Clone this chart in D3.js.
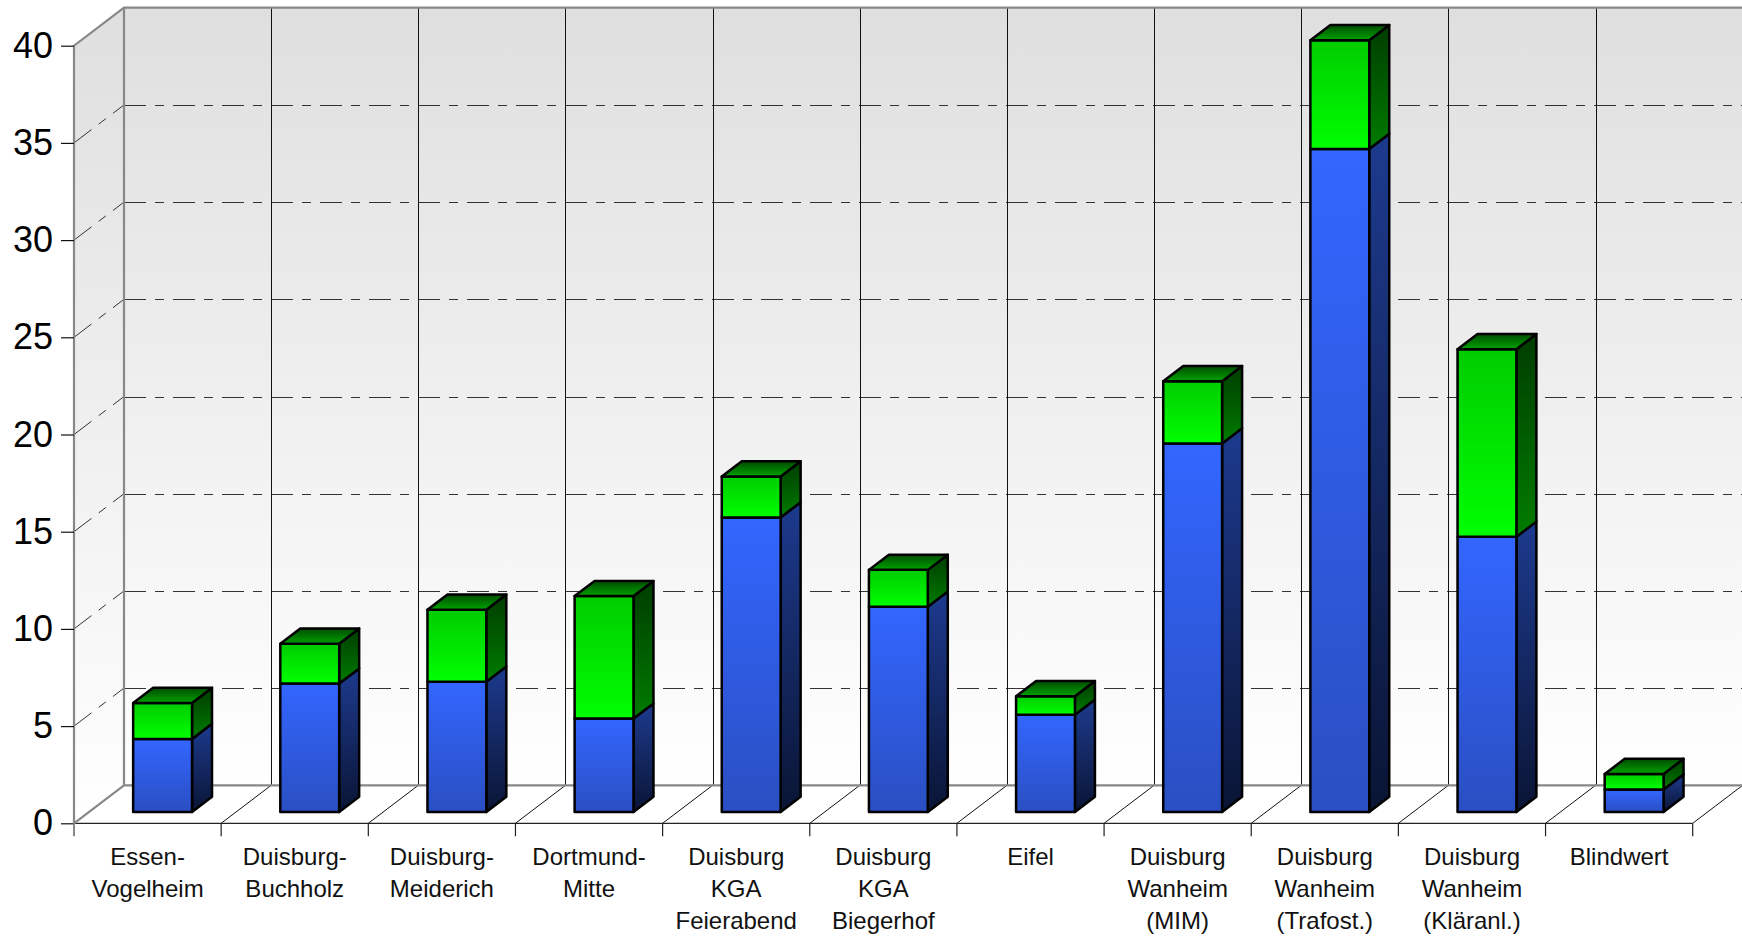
<!DOCTYPE html>
<html>
<head>
<meta charset="utf-8">
<script src="https://cdn.jsdelivr.net/npm/d3@7"></script>
<style>
  body { margin: 0; background: #fff; }
  svg { display: block; font-family: "Liberation Sans", Arial, sans-serif; }
</style>
</head>
<body>
<script>
// Categories (label lines)
const categories = [
  ["Essen-", "Vogelheim"],
  ["Duisburg-", "Buchholz"],
  ["Duisburg-", "Meiderich"],
  ["Dortmund-", "Mitte"],
  ["Duisburg", "KGA", "Feierabend"],
  ["Duisburg", "KGA", "Biegerhof"],
  ["Eifel"],
  ["Duisburg", "Wanheim", "(MIM)"],
  ["Duisburg", "Wanheim", "(Trafost.)"],
  ["Duisburg", "Wanheim", "(Kläranl.)"],
  ["Blindwert"],
];

// lower (blue) and upper (green) stacked parts
const blueValues = [3.75, 6.6, 6.7, 4.8, 15.15, 10.55, 5.0, 18.95, 34.1, 14.15, 1.15];
const greenValues = [1.85, 2.05, 3.7, 6.3, 2.1, 1.9, 0.95, 3.2, 5.6, 9.65, 0.8];

const yTicks = [0, 5, 10, 15, 20, 25, 30, 35, 40];

const width = 1742;
const height = 936;

// 3D offsets of the back wall
const depthX = 50;
const depthY = -38;
// bar sits between 30% and 70% of the depth
const barDepthStart = 0.3;
const barDepthEnd = 0.7;

const svg = d3.select("body")
  .append("svg")
  .attr("width", width)
  .attr("height", height);

const defs = svg.append("defs");

function vGradient(id, top, bottom) {
  const g = defs.append("linearGradient")
    .attr("id", id)
    .attr("x1", 0).attr("y1", 0)
    .attr("x2", 0).attr("y2", 1);
  g.append("stop").attr("offset", "0%").attr("stop-color", top);
  g.append("stop").attr("offset", "100%").attr("stop-color", bottom);
}

vGradient("wall", "#dfdfdf", "#ffffff");
vGradient("blueFront", "#3366ff", "#2a4fc2");
vGradient("blueSide", "#1d3a8e", "#0a1535");
vGradient("greenFront", "#00cc00", "#00ff00");
vGradient("greenSide", "#003c00", "#007c00");
vGradient("greenTop", "#004c00", "#00a200");

const x = d3.scaleBand()
  .domain(d3.range(categories.length))
  .range([74, 1692.7])
  .padding(0);

const y = d3.scaleLinear()
  .domain([0, 40])
  .range([823.3, 45.7]);

const step = x.step();
const x0 = x.range()[0];
const x1 = x.range()[1];
const yBase = y(0);
const yTop = y(40);

// ---- walls ----
// back wall
svg.append("rect")
  .attr("x", x0 + depthX)
  .attr("y", yTop + depthY)
  .attr("width", width - (x0 + depthX) + 2)
  .attr("height", yBase - yTop)
  .attr("fill", "url(#wall)");

// left wall
svg.append("polygon")
  .attr("points", [
    [x0, yTop], [x0 + depthX, yTop + depthY],
    [x0 + depthX, yBase + depthY], [x0, yBase]
  ].join(" "))
  .attr("fill", "url(#wall)");

// horizontal dashed grid lines
const gridVals = yTicks.filter(v => v > 0 && v < 40);
const grid = svg.append("g")
  .attr("stroke", "#333")
  .attr("stroke-width", 1)
  .attr("stroke-dasharray", "22,9,9,9")
  .attr("fill", "none");

grid.selectAll(".back")
  .data(gridVals)
  .enter()
  .append("line")
  .attr("x1", x0 + depthX)
  .attr("x2", width + 2)
  .attr("y1", d => Math.round(y(d) + depthY) + 0.5)
  .attr("y2", d => Math.round(y(d) + depthY) + 0.5);

grid.selectAll(".side")
  .data(gridVals)
  .enter()
  .append("line")
  .attr("x1", x0)
  .attr("y1", d => y(d))
  .attr("x2", x0 + depthX)
  .attr("y2", d => y(d) + depthY);

// vertical lines on back wall
const bounds = d3.range(1, categories.length + 1);
svg.append("g")
  .selectAll("line")
  .data(bounds)
  .enter()
  .append("line")
  .attr("x1", i => Math.round(x0 + i * step + depthX) + 0.5)
  .attr("x2", i => Math.round(x0 + i * step + depthX) + 0.5)
  .attr("y1", yTop + depthY)
  .attr("y2", yBase + depthY)
  .attr("stroke", "#111")
  .attr("stroke-width", 1);

// floor lines
svg.append("g")
  .selectAll("line")
  .data(bounds)
  .enter()
  .append("line")
  .attr("x1", i => x0 + i * step)
  .attr("y1", yBase)
  .attr("x2", i => x0 + i * step + depthX)
  .attr("y2", yBase + depthY)
  .attr("stroke", "#111")
  .attr("stroke-width", 1);

// front floor edge
svg.append("line")
  .attr("x1", x0).attr("x2", x1)
  .attr("y1", yBase).attr("y2", yBase)
  .attr("stroke", "#222")
  .attr("stroke-width", 1.2);

// gray frame
const frame = svg.append("g")
  .attr("stroke", "#888")
  .attr("stroke-width", 2.2)
  .attr("fill", "none");

frame.append("polyline")
  .attr("points", [
    [x0, yBase], [x0, yTop], [x0 + depthX, yTop + depthY], [width + 2, yTop + depthY]
  ].join(" "));
frame.append("polyline")
  .attr("points", [
    [x0, yBase], [x0 + depthX, yBase + depthY], [width + 2, yBase + depthY]
  ].join(" "));
frame.append("line")
  .attr("x1", x0 + depthX).attr("x2", x0 + depthX)
  .attr("y1", yTop + depthY).attr("y2", yBase + depthY);

// ---- axes ----
const yAxis = svg.append("g")
  .attr("transform", `translate(${x0},0)`)
  .call(d3.axisLeft(y).tickValues(yTicks).tickSize(13).tickPadding(8));
yAxis.select(".domain").remove();
yAxis.selectAll(".tick line").attr("stroke", "#111").attr("stroke-width", 1.2);
yAxis.selectAll(".tick text")
  .attr("font-size", 36)
  .attr("font-family", "Liberation Sans, Arial, sans-serif")
  .attr("fill", "#000");

// category boundary ticks
svg.append("g")
  .selectAll("line")
  .data(d3.range(0, categories.length + 1))
  .enter()
  .append("line")
  .attr("x1", i => x0 + i * step)
  .attr("x2", i => x0 + i * step)
  .attr("y1", yBase)
  .attr("y2", yBase + 13)
  .attr("stroke", i => i === 0 ? "#888" : "#222")
  .attr("stroke-width", i => i === 0 ? 2 : 1.2);

// category labels
const labels = svg.append("g")
  .attr("font-size", 24)
  .attr("fill", "#111")
  .attr("text-anchor", "middle");

labels.selectAll("text")
  .data(categories)
  .enter()
  .append("text")
  .attr("transform", (d, i) => `translate(${x(i) + x.bandwidth() / 2},865)`)
  .selectAll("tspan")
  .data(d => d)
  .enter()
  .append("tspan")
  .attr("x", 0)
  .attr("y", (d, j) => j * 32)
  .text(d => d);

// ---- bars ----
const stackData = categories.map((c, i) => ({ blue: blueValues[i], green: greenValues[i] }));
const series = d3.stack().keys(["blue", "green"])(stackData);

const barW = x.bandwidth() * 0.4;
const frontDx = depthX * barDepthStart;
const frontDy = depthY * barDepthStart;
const sideDx = depthX * (barDepthEnd - barDepthStart);
const sideDy = depthY * (barDepthEnd - barDepthStart);

const barsG = svg.append("g")
  .attr("stroke", "#000")
  .attr("stroke-width", 2.5)
  .attr("stroke-linejoin", "round");

categories.forEach((c, i) => {
  const left = x(i) + x.bandwidth() / 2 - barW / 2 + frontDx;
  const right = left + barW;
  const g = barsG.append("g");

  series.forEach((s, k) => {
    const [v0, v1] = s[i];
    const yb = y(v0) + frontDy;
    const yt = y(v1) + frontDy;
    const key = s.key;

    // side face
    g.append("polygon")
      .attr("points", [
        [right, yb], [right + sideDx, yb + sideDy],
        [right + sideDx, yt + sideDy], [right, yt]
      ].join(" "))
      .attr("fill", `url(#${key}Side)`);

    // front face
    g.append("rect")
      .attr("x", left)
      .attr("y", yt)
      .attr("width", barW)
      .attr("height", yb - yt)
      .attr("fill", `url(#${key}Front)`);

    // top face on the last segment
    if (k === series.length - 1) {
      g.append("polygon")
        .attr("points", [
          [left, yt], [left + sideDx, yt + sideDy],
          [right + sideDx, yt + sideDy], [right, yt]
        ].join(" "))
        .attr("fill", "url(#greenTop)");
    }
  });
});
</script>
</body>
</html>
